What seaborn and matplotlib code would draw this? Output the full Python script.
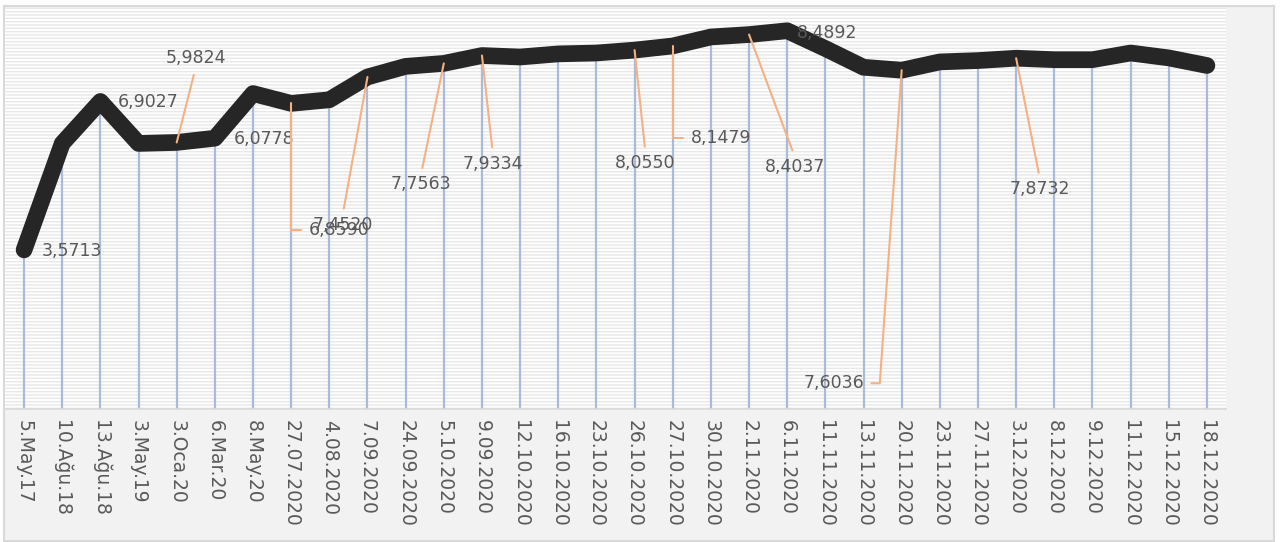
import numpy as np
import seaborn as sns
import matplotlib.pyplot as plt
from matplotlib.patches import Rectangle

# dates (x categories) and values
dates = ["5.May.17", "10.Ağu.18", "13.Ağu.18", "3.May.19", "3.Oca.20", "6.Mar.20",
         "8.May.20", "27.07.2020", "4.08.2020", "7.09.2020", "24.09.2020", "5.10.2020",
         "9.09.2020", "12.10.2020", "16.10.2020", "23.10.2020", "26.10.2020", "27.10.2020",
         "30.10.2020", "2.11.2020", "6.11.2020", "11.11.2020", "13.11.2020", "20.11.2020",
         "23.11.2020", "27.11.2020", "3.12.2020", "8.12.2020", "9.12.2020", "11.12.2020",
         "15.12.2020", "18.12.2020"]
values = [3.5713, 5.96, 6.9027, 5.96, 5.9824, 6.0778, 7.08, 6.8590, 6.94, 7.4520,
          7.69, 7.7563, 7.9334, 7.90, 7.97, 7.99, 8.0550, 8.1479, 8.35, 8.4037,
          8.4892, 8.09, 7.67, 7.6036, 7.79, 7.82, 7.8732, 7.84, 7.84, 7.99,
          7.88, 7.71]

# which points carry a data label
labelled = [0, 2, 4, 5, 7, 9, 11, 12, 16, 17, 19, 20, 23, 26]

# label placement: offset in pixels, leader attach point, connection style
label_pos = {
    0: ((48, -1), None, None),
    2: ((48, -1), None, None),
    4: ((19, 84), (0.5, 0), "arc3"),
    5: ((49, -1), None, None),
    7: ((48, -127), (0, 0.5), "angle,angleA=0,angleB=90,rad=0"),
    9: ((-25, -148), (0.5, 1), "arc3"),
    11: ((-23, -121), (0.5, 1), "arc3"),
    12: ((11, -108), (0.5, 1), "arc3"),
    16: ((11, -113), (0.5, 1), "arc3"),
    17: ((48, -92), (0, 0.5), "angle,angleA=0,angleB=90,rad=0"),
    19: ((46, -132), (0.5, 1), "arc3"),
    20: ((40, -2), None, None),
    23: ((-68, -313), (1, 0.5), "angle,angleA=0,angleB=86,rad=0"),
    26: ((24, -131), (0.5, 1), "arc3"),
}

sns.set_style("white")
plt.rcParams["font.family"] = ["DejaVu Sans"]
plt.rcParams["hatch.linewidth"] = 1.0

W, H = 1281, 542
fig = plt.figure(figsize=(W / 100, H / 100), dpi=100, facecolor="white")

# chart area frame
fig.patches.append(Rectangle((4 / W, 1 / H), 1270 / W, 535 / H, transform=fig.transFigure,
                             facecolor="#f2f2f2", edgecolor="#d9d9d9", linewidth=1.5, zorder=-10))

ax = fig.add_axes([5 / W, 133 / H, 1221 / W, 401 / H])
ax.set_facecolor("white")

# striped plot area background
ax.add_patch(Rectangle((0, 0), 1, 1, transform=ax.transAxes, facecolor="white",
                       edgecolor="#e8e8e8", hatch="-----", linewidth=0, zorder=0))

x = np.arange(len(dates))

# drop lines
ax.vlines(x, 0, values, color="#a9bbdb", linewidth=1.6, zorder=1)

sns.lineplot(x=x, y=values, sort=False, ax=ax, color="#262626", linewidth=12,
             solid_capstyle="round", solid_joinstyle="round", zorder=3)

for i in labelled:
    (dx, dy), rel, conn = label_pos[i]
    txt = f"{values[i]:.4f}".replace(".", ",")
    props = None
    if rel is not None:
        props = dict(arrowstyle="-", color="#f4b183", linewidth=1.5, relpos=rel,
                     connectionstyle=conn, shrinkA=3, shrinkB=0)
    ax.annotate(txt, xy=(i, values[i]), xytext=(dx, dy), textcoords="offset pixels",
                ha="center", va="center", fontsize=12.5, color="#595959",
                arrowprops=props, zorder=4)

ax.set_xlim(-0.5, len(dates) - 0.5)
ax.set_ylim(0, 9)
ax.set_yticks([])
ax.set_xticks(x)
ax.set_xticklabels(dates, rotation=-90, fontsize=13.5, color="#595959", va="top", ha="center")
ax.tick_params(axis="x", length=0, pad=8)
ax.set_xlabel("")
ax.set_ylabel("")
for s in ["top", "left", "right"]:
    ax.spines[s].set_visible(False)
ax.spines["bottom"].set_color("#d9d9d9")
ax.spines["bottom"].set_linewidth(1.2)

fig.savefig("out.png", dpi=100)
